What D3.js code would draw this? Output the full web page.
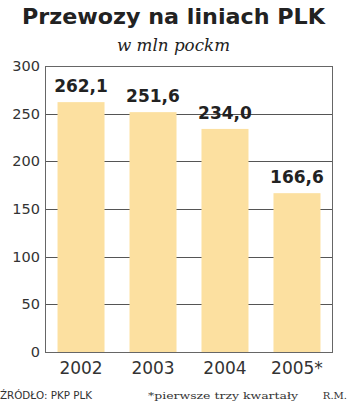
<!DOCTYPE html>
<html><head><meta charset="utf-8">
<script src="https://cdn.jsdelivr.net/npm/d3@7"></script>
<style>body{margin:0;background:#fff}svg{display:block}</style>
</head><body>
<script>
const categories = ["2002", "2003", "2004", "2005*"];
const values = [262.1, 251.6, 234.0, 166.6];
const valueLabels = ["262,1", "251,6", "234,0", "166,6"];
const yTicks = [0, 50, 100, 150, 200, 250, 300];

const W = 350, H = 403;
const m = {left: 45, right: 17, top: 66, bottom: 51};
const svg = d3.select("body").append("svg").attr("width", W).attr("height", H);

const x = d3.scaleBand().domain(categories).range([m.left, W - m.right]).paddingInner(0.347).paddingOuter(0.174);
const y = d3.scaleLinear().domain([0, 300]).range([H - m.bottom, m.top]);

// title
svg.append("text").attr("x", 22).attr("y", 24)
  .attr("font-family", "'DejaVu Sans', sans-serif").attr("font-weight", "bold")
  .attr("font-size", 21).attr("fill", "#222")
  .attr("textLength", 303).attr("lengthAdjust", "spacingAndGlyphs")
  .text("Przewozy na liniach PLK");
svg.append("text").attr("x", 117).attr("y", 51)
  .attr("font-family", "'DejaVu Serif', serif").attr("font-style", "italic")
  .attr("font-size", 17).attr("fill", "#222")
  .attr("textLength", 113).attr("lengthAdjust", "spacingAndGlyphs")
  .text("w mln pockm");

// gridlines
svg.append("g").selectAll("line").data(yTicks.filter(t => t > 0 && t < 300)).join("line")
  .attr("x1", m.left).attr("x2", W - m.right)
  .attr("y1", d => Math.round(y(d)) + 0.5).attr("y2", d => Math.round(y(d)) + 0.5)
  .attr("stroke", "#555").attr("stroke-width", 1);

// bars
svg.append("g").selectAll("rect").data(values).join("rect")
  .attr("x", (d, i) => x(categories[i])).attr("width", x.bandwidth())
  .attr("y", d => y(d)).attr("height", d => y(0) - y(d))
  .attr("fill", "#fce0a0");

// frame
svg.append("rect").attr("x", m.left + 0.5).attr("y", m.top + 0.5)
  .attr("width", W - m.left - m.right - 1).attr("height", y(0) - m.top)
  .attr("fill", "none").attr("stroke", "#666").attr("stroke-width", 1);

// y axis
const yAxis = d3.axisLeft(y).tickValues(yTicks).tickSize(0).tickPadding(5).tickFormat(d3.format("d"));
const gy = svg.append("g").attr("transform", `translate(${m.left},0)`).call(yAxis);
gy.select(".domain").remove();
gy.selectAll("text").attr("font-family", "'DejaVu Sans', sans-serif").attr("font-size", 14.5).attr("fill", "#333");

// x axis
const xAxis = d3.axisBottom(x).tickSize(0).tickPadding(10);
const gx = svg.append("g").attr("transform", `translate(0,${y(0)})`).call(xAxis);
gx.select(".domain").remove();
gx.selectAll("text").attr("font-family", "'DejaVu Sans', sans-serif").attr("font-size", 17).attr("fill", "#333");

// value labels
svg.append("g").selectAll("text").data(values).join("text")
  .attr("x", (d, i) => x(categories[i]) + x.bandwidth() / 2)
  .attr("y", d => y(d) - 10).attr("text-anchor", "middle")
  .attr("font-family", "'DejaVu Sans', sans-serif").attr("font-weight", "bold")
  .attr("font-size", 17).attr("fill", "#222")
  .text((d, i) => valueLabels[i]);

// footer
svg.append("text").attr("x", 0).attr("y", 399)
  .attr("font-family", "'DejaVu Sans Condensed', 'DejaVu Sans', sans-serif").attr("font-size", 10.5).attr("fill", "#333")
  .attr("textLength", 92).attr("lengthAdjust", "spacingAndGlyphs").text("ŹRÓDŁO: PKP PLK");
svg.append("text").attr("x", 148).attr("y", 399)
  .attr("font-family", "'DejaVu Serif', serif").attr("font-size", 10).attr("fill", "#333")
  .attr("textLength", 150).attr("lengthAdjust", "spacingAndGlyphs").text("*pierwsze trzy kwartały");
svg.append("text").attr("x", 347).attr("y", 399).attr("text-anchor", "end")
  .attr("font-family", "'DejaVu Serif', serif").attr("font-size", 10).attr("fill", "#333").text("R.M.");
</script>
</body></html>
